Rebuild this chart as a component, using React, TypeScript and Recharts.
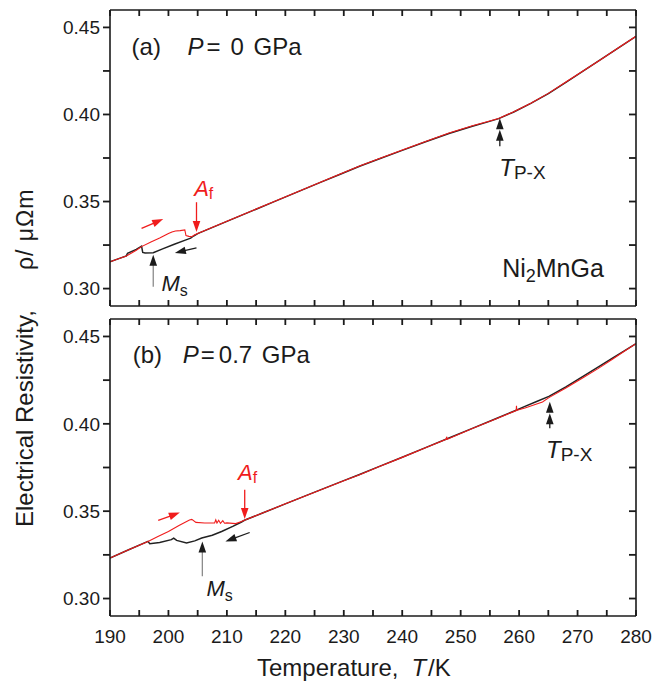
import React from "react";
import { LineChart, Line, XAxis, YAxis, ReferenceLine, ReferenceDot } from "recharts";

const FONT = '"Liberation Sans", Arial, Helvetica, sans-serif';
const INK = "#1b1b1b";
const RED = "#f01c1c";
const GREY = "#8c8c8c";

// axes
const tempTicks = [190, 195, 200, 205, 210, 215, 220, 225, 230, 235, 240, 245, 250, 255, 260, 265, 270, 275, 280];
const rhoTicks = [0.3, 0.325, 0.35, 0.375, 0.4, 0.425, 0.45];
const tempRange = [190, 280];
const rhoRange = [0.29, 0.46];

// (a) P = 0 GPa, cooling (black)
const aCoolT = [190, 191.5, 192.8, 193.0, 194.5, 195.4, 195.6, 196.0, 197.4, 199.0, 201.0, 203.0, 203.8, 204.3, 205, 210, 214, 218, 222, 226, 229.5, 232.7, 236, 240, 244, 248, 252, 254.5, 256.5, 259, 262, 265, 268, 271, 274, 277, 280];
const aCoolRho = [0.3154, 0.3172, 0.3188, 0.3203, 0.3225, 0.3244, 0.3208, 0.3205, 0.3206, 0.3228, 0.3255, 0.328, 0.329, 0.3302, 0.3316, 0.3386, 0.3442, 0.3498, 0.3554, 0.361, 0.3658, 0.3703, 0.3744, 0.3794, 0.3843, 0.3891, 0.3932, 0.3956, 0.3976, 0.4013, 0.4064, 0.412, 0.4185, 0.425, 0.4316, 0.4382, 0.4449];
// (a) heating (red)
const aHeatT = [190, 192.8, 194.5, 195.4, 197.0, 198.5, 200.0, 200.6, 201.2, 202.0, 202.8, 203.0, 203.5, 204.0, 204.5, 205, 210, 214, 218, 222, 226, 229.5, 232.7, 236, 240, 244, 248, 252, 254.5, 256.5, 259, 262, 265, 268, 271, 274, 277, 280];
const aHeatRho = [0.3154, 0.3187, 0.322, 0.3241, 0.3268, 0.329, 0.3316, 0.3325, 0.3331, 0.3333, 0.3337, 0.3304, 0.33, 0.3298, 0.3309, 0.3317, 0.3387, 0.3443, 0.3499, 0.3555, 0.3611, 0.3659, 0.3704, 0.3746, 0.3796, 0.3845, 0.3894, 0.3935, 0.3958, 0.3977, 0.4014, 0.4064, 0.4121, 0.4186, 0.4251, 0.4316, 0.4383, 0.4449];

// (b) P = 0.7 GPa, cooling (black)
const bCoolT = [190, 193, 196.5, 196.8, 198.5, 200.5, 200.9, 201.4, 203.1, 204.5, 205.7, 207.5, 209.1, 211, 212.5, 213, 216, 220, 223.3, 226, 230, 232.7, 236, 240, 244, 248, 252, 256, 259.5, 261, 263, 265.1, 268, 271, 273.5, 275.9, 278, 280];
const bCoolRho = [0.3232, 0.3276, 0.3327, 0.3314, 0.3321, 0.3337, 0.3346, 0.3333, 0.3318, 0.333, 0.3346, 0.3362, 0.3384, 0.3413, 0.3438, 0.3448, 0.3488, 0.3542, 0.3586, 0.3622, 0.3675, 0.371, 0.3755, 0.3809, 0.3864, 0.3919, 0.3974, 0.4029, 0.4078, 0.41, 0.4128, 0.4157, 0.4212, 0.4273, 0.4324, 0.4374, 0.4418, 0.4459];
// (b) heating (red)
const bHeatT = [190, 193, 196.5, 198.2, 200.0, 201.8, 203.6, 204.0, 204.7, 206.2, 207.9, 208.1, 208.3, 208.6, 208.9, 209.3, 209.6, 210.0, 211.5, 212.5, 213, 216, 220, 223.3, 226, 230, 232.7, 236, 240, 244, 247.5, 247.6, 247.7, 252, 256, 259.5, 259.55, 259.6, 261, 262.5, 264, 265.1, 268, 271, 273.5, 275.9, 278, 280];
const bHeatRho = [0.3232, 0.3276, 0.3327, 0.3355, 0.3384, 0.3418, 0.345, 0.3453, 0.3436, 0.3432, 0.3432, 0.345, 0.3432, 0.3448, 0.343, 0.3446, 0.3431, 0.3433, 0.3429, 0.3441, 0.3448, 0.3488, 0.3542, 0.3586, 0.3621, 0.3674, 0.3709, 0.3754, 0.3808, 0.3863, 0.3911, 0.3926, 0.3912, 0.3973, 0.4028, 0.4076, 0.4103, 0.4077, 0.409, 0.4108, 0.4125, 0.415, 0.4205, 0.4265, 0.4316, 0.4368, 0.4415, 0.4459];

const toPoints = (t: number[], r: number[]) => t.map((T, i) => ({ T, rho: r[i] }));

type Pt = [number, number];
interface ArrowSpec {
  from: Pt;
  to: Pt;
  shaft: string;
  head: string;
  heads?: number;
}
interface Marks {
  panel: Pt;
  tag: string;
  pressure: string;
  pOffsets: number[];
  af: Pt;
  ms: Pt;
  tpx: Pt;
  compound?: Pt;
}

const arrowsA: ArrowSpec[] = [
  { from: [195.4, 0.3346], to: [199.1, 0.3399], shaft: RED, head: RED },
  { from: [204.8, 0.3234], to: [201.1, 0.3205], shaft: INK, head: INK },
  { from: [204.8, 0.3496], to: [204.8, 0.3325], shaft: RED, head: RED },
  { from: [197.4, 0.301], to: [197.4, 0.3194], shaft: GREY, head: INK },
  { from: [256.7, 0.3817], to: [256.7, 0.3979], shaft: INK, head: INK, heads: 2 },
];
const arrowsB: ArrowSpec[] = [
  { from: [198.25, 0.3447], to: [201.95, 0.3492], shaft: RED, head: RED },
  { from: [213.9, 0.3378], to: [209.75, 0.3327], shaft: INK, head: INK },
  { from: [213.05, 0.3622], to: [213.05, 0.3455], shaft: RED, head: RED },
  { from: [205.8, 0.3127], to: [205.8, 0.3327], shaft: GREY, head: INK },
  { from: [265.25, 0.3974], to: [265.25, 0.4126], shaft: INK, head: INK, heads: 2 },
];
const marksA: Marks = {
  panel: [193.7, 0.4341], tag: "(a)", pressure: "0", pOffsets: [56, 75, 99, 122],
  af: [204.4, 0.3529], ms: [198.8, 0.2989], tpx: [256.6, 0.3646], compound: [257.1, 0.3068],
};
const marksB: Marks = {
  panel: [193.9, 0.4346], tag: "(b)", pressure: "0.7", pOffsets: [50, 68, 86, 129],
  af: [211.9, 0.3679], ms: [206.5, 0.3013], tpx: [264.6, 0.3803],
};

function ArrowShape(props: any) {
  const { x1, y1, x2, y2, shaft, head, heads = 1 } = props;
  const dx = x2 - x1;
  const dy = y2 - y1;
  const len = Math.hypot(dx, dy) || 1;
  const ux = dx / len;
  const uy = dy / len;
  const hl = 11;
  const hw = 3.8;
  const gap = 11.5;
  const polys = [];
  for (let i = 0; i < heads; i++) {
    const tx = x2 - ux * gap * i;
    const ty = y2 - uy * gap * i;
    const bx = tx - ux * hl;
    const by = ty - uy * hl;
    polys.push(
      <polygon
        key={i}
        points={`${tx},${ty} ${bx - uy * hw},${by + ux * hw} ${bx + uy * hw},${by - ux * hw}`}
        fill={head}
      />
    );
  }
  const back = gap * (heads - 1) + hl * 0.8;
  return (
    <g>
      <line x1={x1} y1={y1} x2={x2 - ux * back} y2={y2 - uy * back} stroke={shaft} strokeWidth={1.3} />
      {polys}
    </g>
  );
}

const fmtRho = (v: number) => (Math.round(v * 1000) % 50 === 0 ? v.toFixed(2) : "");
const fmtTemp = (v: number) => (v % 10 === 0 ? String(v) : "");

const TICK_LEN = 7;
const TICK_W = 1.8;

// axis tick drawn by hand: tickSize/tickMargin are 0, so (x, y) sit on the frame line
function FrameTick(props: any) {
  const x = Number(props.x);
  const y = Number(props.y);
  const { side, label } = props;
  if (side === "left") {
    return (
      <g>
        <rect x={x - TICK_LEN} y={y - TICK_W / 2} width={TICK_LEN} height={TICK_W} fill={INK} />
        <text x={x - 10} y={y} dy="0.355em" textAnchor="end" fontSize={19} fill={INK} fontFamily={FONT}>
          {label}
        </text>
      </g>
    );
  }
  if (side === "right") {
    return <rect x={x - TICK_LEN} y={y - TICK_W / 2} width={TICK_LEN} height={TICK_W} fill={INK} />;
  }
  if (side === "top") {
    return <rect x={x - TICK_W / 2} y={y} width={TICK_W} height={TICK_LEN - 1} fill={INK} />;
  }
  return (
    <g>
      <rect x={x - TICK_W / 2} y={y - TICK_LEN + 1} width={TICK_W} height={TICK_LEN - 1} fill={INK} />
      {label ? (
        <text x={x} y={y + 14} dy="0.71em" textAnchor="middle" fontSize={19} fill={INK} fontFamily={FONT}>
          {label}
        </text>
      ) : null}
    </g>
  );
}

function Sym({ cx, cy, main, sub, color, size, subSize, drop }: any) {
  return (
    <text x={cx} y={cy} fill={color} fontFamily={FONT} fontSize={size}>
      <tspan fontStyle="italic">{main}</tspan>
      <tspan fontSize={subSize} dy={drop}>{sub}</tspan>
    </text>
  );
}

function PanelTag({ cx, cy, tag, pressure, offs }: any) {
  return (
    <text x={cx} y={cy} fill={INK} fontFamily={FONT} fontSize={24}>
      <tspan>{tag}</tspan>
      <tspan x={cx + offs[0]} fontStyle="italic">P</tspan>
      <tspan x={cx + offs[1]}>=</tspan>
      <tspan x={cx + offs[2]}>{pressure}</tspan>
      <tspan x={cx + offs[3]}>GPa</tspan>
    </text>
  );
}

function Compound({ cx, cy }: any) {
  return (
    <text x={cx} y={cy} fill={INK} fontFamily={FONT} fontSize={25}>
      <tspan>Ni</tspan>
      <tspan fontSize={18} dy={5}>2</tspan>
      <tspan dy={-5}>MnGa</tspan>
    </text>
  );
}

const axisStyle = { stroke: INK, strokeWidth: 1.6 };

function Panel({ cool, heat, arrows, marks, height, bottomLabels }: any) {
  return (
    <LineChart
      width={656}
      height={height}
      margin={{ top: 9, right: 19, left: 50, bottom: bottomLabels ? 28 : 5 }}
    >
      <XAxis
        dataKey="T"
        type="number"
        domain={tempRange}
        ticks={tempTicks}
        interval={0}
        allowDataOverflow
        height={bottomLabels ? 40 : 1}
        tickSize={0}
        tickMargin={0}
        tickLine={false}
        tick={(p: any) => (
          <FrameTick {...p} side="bottom" label={bottomLabels ? fmtTemp(p.payload.value) : ""} />
        )}
        {...axisStyle}
      />
      <XAxis
        xAxisId="top"
        orientation="top"
        dataKey="T"
        type="number"
        domain={tempRange}
        ticks={tempTicks}
        interval={0}
        allowDataOverflow
        height={1}
        tickSize={0}
        tickMargin={0}
        tickLine={false}
        tick={(p: any) => <FrameTick {...p} side="top" />}
        {...axisStyle}
      />
      <YAxis
        type="number"
        domain={rhoRange}
        ticks={rhoTicks}
        interval={0}
        allowDataOverflow
        width={60}
        tickSize={0}
        tickMargin={0}
        tickLine={false}
        tick={(p: any) => <FrameTick {...p} side="left" label={fmtRho(p.payload.value)} />}
        {...axisStyle}
      />
      <YAxis
        yAxisId="right"
        orientation="right"
        type="number"
        domain={rhoRange}
        ticks={rhoTicks}
        interval={0}
        allowDataOverflow
        width={1}
        tickSize={0}
        tickMargin={0}
        tickLine={false}
        tick={(p: any) => <FrameTick {...p} side="right" />}
        {...axisStyle}
      />
      <Line
        data={cool}
        dataKey="rho"
        type="linear"
        stroke="#222"
        strokeWidth={1.5}
        dot={false}
        isAnimationActive={false}
      />
      <Line
        data={heat}
        dataKey="rho"
        type="linear"
        stroke={RED}
        strokeWidth={1.1}
        dot={false}
        isAnimationActive={false}
      />
      {arrows.map((a: ArrowSpec, i: number) => (
        <ReferenceLine
          key={i}
          segment={[{ x: a.from[0], y: a.from[1] }, { x: a.to[0], y: a.to[1] }]}
          shape={(p: any) => <ArrowShape {...p} shaft={a.shaft} head={a.head} heads={a.heads || 1} />}
        />
      ))}
      <ReferenceDot
        x={marks.panel[0]}
        y={marks.panel[1]}
        r={0}
        shape={(p: any) => (
          <PanelTag cx={p.cx} cy={p.cy} tag={marks.tag} pressure={marks.pressure} offs={marks.pOffsets} />
        )}
      />
      <ReferenceDot
        x={marks.af[0]}
        y={marks.af[1]}
        r={0}
        shape={(p: any) => <Sym cx={p.cx} cy={p.cy} main="A" sub="f" color={RED} size={22} subSize={16} drop={3} />}
      />
      <ReferenceDot
        x={marks.ms[0]}
        y={marks.ms[1]}
        r={0}
        shape={(p: any) => <Sym cx={p.cx} cy={p.cy} main="M" sub="s" color={INK} size={22} subSize={16} drop={5} />}
      />
      <ReferenceDot
        x={marks.tpx[0]}
        y={marks.tpx[1]}
        r={0}
        shape={(p: any) => <Sym cx={p.cx} cy={p.cy} main="T" sub="P-X" color={INK} size={24} subSize={19} drop={3} />}
      />
      {marks.compound && (
        <ReferenceDot
          x={marks.compound[0]}
          y={marks.compound[1]}
          r={0}
          shape={(p: any) => <Compound cx={p.cx} cy={p.cy} />}
        />
      )}
    </LineChart>
  );
}

export default function App() {
  return (
    <div
      style={{
        position: "absolute",
        left: 0,
        top: 0,
        width: 656,
        height: 684,
        background: "#fff",
        fontFamily: FONT,
      }}
    >
      <div style={{ position: "absolute", left: 0, top: 0 }}>
        <Panel
          cool={toPoints(aCoolT, aCoolRho)}
          heat={toPoints(aHeatT, aHeatRho)}
          arrows={arrowsA}
          marks={marksA}
          height={312}
          bottomLabels={false}
        />
      </div>
      <div style={{ position: "absolute", left: 0, top: 309 }}>
        <Panel
          cool={toPoints(bCoolT, bCoolRho)}
          heat={toPoints(bHeatT, bHeatRho)}
          arrows={arrowsB}
          marks={marksB}
          height={375}
          bottomLabels
        />
      </div>
      <svg
        width={656}
        height={684}
        style={{ position: "absolute", left: 0, top: 0, pointerEvents: "none" }}
      >
        <text transform="translate(33,527) rotate(-90)" fill={INK} fontFamily={FONT} fontSize={24}>
          Electrical Resistivity,
          <tspan dx={40} fontSize={23} letterSpacing={1}>ρ/ μΩm</tspan>
        </text>
        <text x={257} y={676} fill={INK} fontFamily={FONT} fontSize={24}>
          Temperature,
          <tspan dx={13} fontStyle="italic">T</tspan>
          <tspan dx={2}>/K</tspan>
        </text>
      </svg>
    </div>
  );
}
